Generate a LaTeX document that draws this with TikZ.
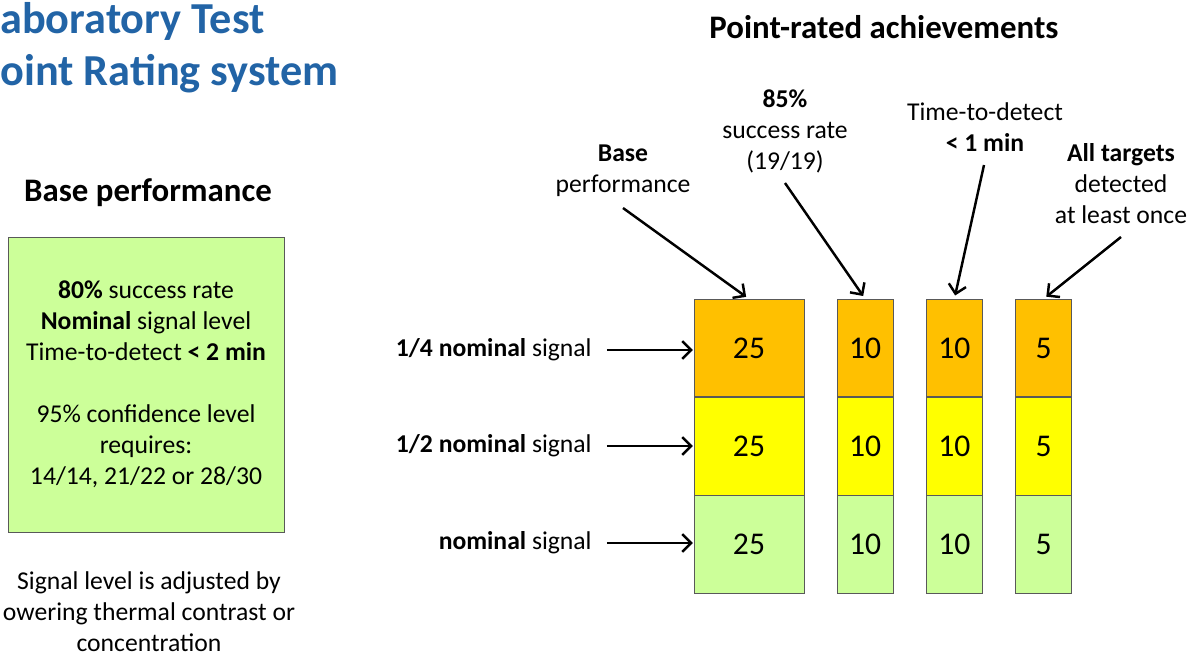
\documentclass[tikz,border=0pt]{standalone}
\usepackage{fontspec}
\setmainfont{Carlito}
\usepackage{tikz}
\usetikzlibrary{arrows.meta,positioning}
\definecolor{TitleBlue}{RGB}{34,100,166}
\definecolor{BarOrange}{RGB}{255,192,0}
\definecolor{BarYellow}{RGB}{255,255,0}
\definecolor{BarGreen}{RGB}{204,255,153}
\definecolor{EdgeGray}{RGB}{89,89,89}
\newcommand{\bodyfont}{\fontsize{14.6}{17.6}\selectfont}

\begin{document}
\begin{tikzpicture}[x=0.02cm,y=-0.02cm,>={Straight Barb[length=5pt,width=10pt]},
  cell/.style={draw=EdgeGray,inner sep=0pt,minimum height=1.95cm,font=\fontsize{18}{20}\selectfont},
  wide/.style={cell,minimum width=2.2cm},
  narrow/.style={cell,minimum width=1.12cm},
  lbl/.style={font=\bodyfont,align=center,inner sep=0pt},
  heading/.style={font=\fontsize{18.7}{22}\selectfont\bfseries,anchor=base,inner sep=0pt},
  pointer/.style={->,line width=1.4pt,shorten >=2pt}]
  \useasboundingbox (0,0) rectangle (1190,657);
  % title
  \node[anchor=base west,inner sep=0pt,text=TitleBlue,font=\fontsize{25.2}{30}\selectfont\bfseries] (title1) at (0,33) {aboratory Test};
  \node[anchor=base west,inner sep=0pt,text=TitleBlue,font=\fontsize{25.2}{30}\selectfont\bfseries] (title2) at (0,85) {oint Rating system};
  % left column
  \node[heading] (basehead) at (148,201.5) {Base performance};
  \node[lbl,draw=EdgeGray,fill=BarGreen,minimum width=5.52cm,minimum height=5.9cm] (basebox) at (146,384.5)
    {\textbf{80\%} success rate\\\textbf{Nominal} signal level\\Time-to-detect \textbf{< 2 min}\\[17.6pt]95\% confidence level\\requires:\\14/14, 21/22 or 28/30};
  \node[lbl] (signote) at (149,612) {Signal level is adjusted by\\owering thermal contrast or\\concentration};
  % point bars
  \node[heading] (pointhead) at (884,38) {Point-rated achievements};
  \node[wide,fill=BarOrange] (b1t) at (749,348) {25};
  \node[wide,fill=BarYellow,below=0pt of b1t] (b1m) {25};
  \node[wide,fill=BarGreen,below=0pt of b1m] (b1b) {25};
  \node[narrow,fill=BarOrange,right=0.65cm of b1t] (b2t) {10};
  \node[narrow,fill=BarYellow,below=0pt of b2t] (b2m) {10};
  \node[narrow,fill=BarGreen,below=0pt of b2m] (b2b) {10};
  \node[narrow,fill=BarOrange,right=0.65cm of b2t] (b3t) {10};
  \node[narrow,fill=BarYellow,below=0pt of b3t] (b3m) {10};
  \node[narrow,fill=BarGreen,below=0pt of b3m] (b3b) {10};
  \node[narrow,fill=BarOrange,right=0.65cm of b3t] (b4t) {5};
  \node[narrow,fill=BarYellow,below=0pt of b4t] (b4m) {5};
  \node[narrow,fill=BarGreen,below=0pt of b4m] (b4b) {5};
  % signal levels
  \node[lbl,anchor=east] (sig1) at (592,350) {\textbf{1/4 nominal} signal};
  \node[lbl,anchor=east] (sig2) at (592,446) {\textbf{1/2 nominal} signal};
  \node[lbl,anchor=east] (sig3) at (592,543) {\textbf{nominal} signal};
  \draw[pointer,shorten <=8.5pt,shorten >=0.5pt] (sig1.east) -- (sig1.east -| b1t.west);
  \draw[pointer,shorten <=8.5pt,shorten >=0.5pt] (sig2.east) -- (sig2.east -| b1m.west);
  \draw[pointer,shorten <=8.5pt,shorten >=0.5pt] (sig3.east) -- (sig3.east -| b1b.west);
  % achievements
  \node[lbl] (basenote) at (623,171) {\textbf{Base}\\performance};
  \node[lbl] (ratenote) at (785,131) {\textbf{85\%}\\success rate\\(19/19)};
  \node[lbl] (timenote) at (985,127) {Time-to-detect\\\textbf{< 1 min}};
  \node[lbl] (allnote) at (1121,183.5) {\textbf{All targets}\\detected\\at least once};
  \coordinate (baseTail) at (623,208);
  \coordinate (rateTail) at (785,183);
  \coordinate (timeTail) at (984,165);
  \coordinate (allTail) at (1121,237);
  \draw[pointer] (baseTail) -- (b1t.north);
  \draw[pointer] (rateTail) -- (b2t.north);
  \draw[pointer] (timeTail) -- (b3t.north);
  \draw[pointer] (allTail) -- (b4t.north);
\end{tikzpicture}
\end{document}
